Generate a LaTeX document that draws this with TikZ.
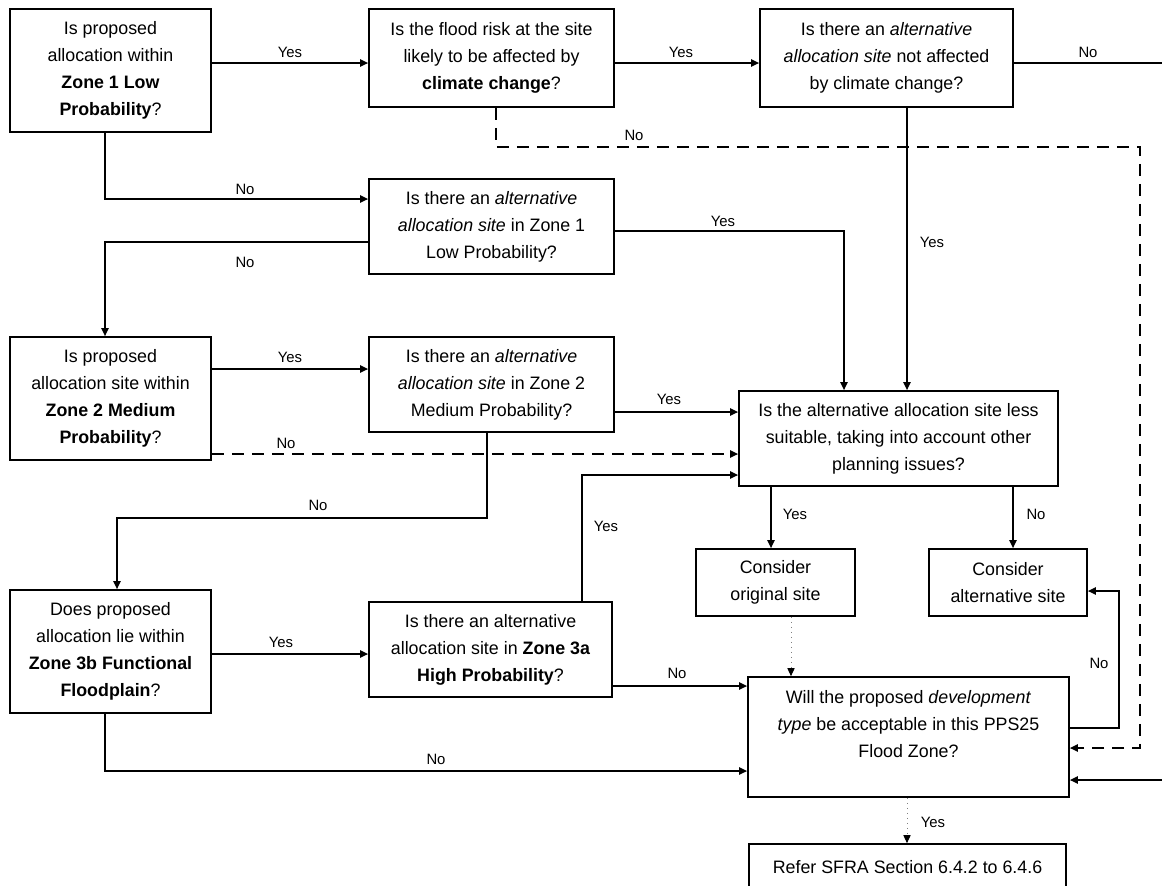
\documentclass[tikz,border=0pt]{standalone}
\usepackage{fontspec}
\setmainfont{Liberation Sans}[FakeStretch=0.99]
\usetikzlibrary{arrows.meta,calc}
\begin{document}
\begin{tikzpicture}[x=0.5pt,y=-0.5pt,
  box/.style={draw, line width=0.85pt, align=center, inner sep=0pt, font=\fontsize{9}{13.5}\selectfont},
  sz/.style 2 args={minimum width=#1*0.5pt, minimum height=#2*0.5pt},
  lab/.style={font=\fontsize{7.5}{9}\selectfont, inner sep=0pt},
  tip/.style={-{Triangle[length=4pt,width=3.6pt,black]}},
  arr/.style={line width=0.8pt, tip},
  ln/.style={line width=0.8pt},
  dsh/.style={dash pattern=on 6pt off 4pt},
  dot/.style={draw=gray, line width=0.5pt, dotted, tip}]
\useasboundingbox (0,0) rectangle (1162,885);
\clip (0,0) rectangle (1162,885);
\fill[white] (0,0) rectangle (1162,885);

% boxes
\node[box, sz={201}{123}] (A) at (110.5,70.5) {Is proposed\\allocation within\\\textbf{Zone 1 Low}\\\textbf{Probability}?};
\node[box, sz={245}{98}] (B) at (491.5,58) {Is the flood risk at the site\\likely to be affected by\\\textbf{climate change}?};
\node[box, sz={253}{98}] (C) at (886.5,58) {Is there an \textit{alternative}\\\textit{allocation site} not affected\\by climate change?};
\node[box, sz={245}{95}] (D) at (491.5,226.5) {Is there an \textit{alternative}\\\textit{allocation site} in Zone 1\\Low Probability?};
\node[box, sz={201}{123}] (F) at (110.5,398.5) {Is proposed\\allocation site within\\\textbf{Zone 2 Medium}\\\textbf{Probability}?};
\node[box, sz={245}{95}] (G) at (491.5,384.5) {Is there an \textit{alternative}\\\textit{allocation site} in Zone 2\\Medium Probability?};
\node[box, sz={319}{95}] (E) at (898.5,438.5) {Is the alternative allocation site less\\suitable, taking into account other\\planning issues?};
\node[box, sz={201}{123}] (H) at (110.5,651.5) {Does proposed\\allocation lie within\\\textbf{Zone 3b Functional}\\\textbf{Floodplain}?};
\node[box, sz={243}{95}] (I) at (490.5,649.5) {Is there an alternative\\allocation site in \textbf{Zone 3a}\\\textbf{High Probability}?};
\node[box, sz={159}{67}] (J) at (775.5,582.5) {Consider\\original site};
\node[box, sz={158}{67}] (K) at (1008,582.5) {Consider\\alternative site};
\node[box, sz={321}{120}] (L) at (908.5,737) {Will the proposed \textit{development}\\\textit{type} be acceptable in this PPS25\\Flood Zone?\\\mbox{}};
\node[box, sz={317}{46}] (M) at (907.5,867) {Refer SFRA Section 6.4.2 to 6.4.6};

% helper coordinates
\coordinate (d0) at (496,147);
\coordinate (d1) at (1140,147);
\coordinate (rc) at (1175,63);
\coordinate (rc2) at (1175,780);
\coordinate (g1) at (117,518);
\coordinate (k1) at (1119,591);

% connectors
\draw[arr] (A.east |- 0,63) -- (B.west |- 0,63);
\draw[arr] (B.east |- 0,63) -- (C.west |- 0,63);
\draw[arr] (C.east |- 0,63) -- (rc) -- (rc2) -- (L.east |- rc2);
\draw[arr,dsh] (B.south -| d0) -- (d0) -- (d1) |- (L.east |- 0,748);
\draw[arr] (C.south -| 907,0) -- (E.north -| 907,0);
\draw[arr] (A.south -| 105,0) |- (D.west |- 0,199);
\draw[arr] (D.west |- 0,242) -| (F.north -| 105,0);
\draw[arr] (D.east |- 0,231) -| (E.north -| 844,0);
\draw[arr] (F.east |- 0,369) -- (G.west |- 0,369);
\draw[arr,dsh] (F.east |- 0,454) -- (E.west |- 0,454);
\draw[arr] (G.east |- 0,412) -- (E.west |- 0,412);
\draw[arr] (G.south -| 487,0) |- (g1) -- (H.north -| g1);
\draw[arr] (H.east |- 0,654) -- (I.west |- 0,654);
\draw[arr] (I.north -| 582,0) |- (E.west |- 0,475);
\draw[arr] (E.south -| 771,0) -- (J.north -| 771,0);
\draw[arr] (E.south -| 1013,0) -- (K.north -| 1013,0);
\draw[dot] (J.south -| 791,0) -- (L.north -| 791,0);
\draw[arr] (I.east |- 0,686) -- (L.west |- 0,686);
\draw[arr] (L.east |- 0,728) -| (k1) -- (K.east |- k1);
\draw[arr] (H.south -| 105,0) |- (L.west |- 0,771);
\draw[dot] (L.south -| 907,0) -- (M.north -| 907,0);

% labels
\node[lab] (l1) at (290,52) {Yes};
\node[lab] (l2) at (681,52) {Yes};
\node[lab] (l3) at (1088,52) {No};
\node[lab] (l4) at (634,135) {No};
\node[lab] (l5) at (932,242) {Yes};
\node[lab] (l6) at (245,189) {No};
\node[lab] (l7) at (245,262) {No};
\node[lab] (l8) at (723,221) {Yes};
\node[lab] (l9) at (290,357) {Yes};
\node[lab] (l10) at (286,443) {No};
\node[lab] (l11) at (669,399) {Yes};
\node[lab] (l12) at (318,505) {No};
\node[lab] (l13) at (281,642) {Yes};
\node[lab] (l14) at (606,526) {Yes};
\node[lab] (l15) at (795,514) {Yes};
\node[lab] (l16) at (1036,514) {No};
\node[lab] (l17) at (677,673) {No};
\node[lab] (l18) at (1099,663) {No};
\node[lab] (l19) at (436,759) {No};
\node[lab] (l20) at (933,822) {Yes};
\end{tikzpicture}
\end{document}
